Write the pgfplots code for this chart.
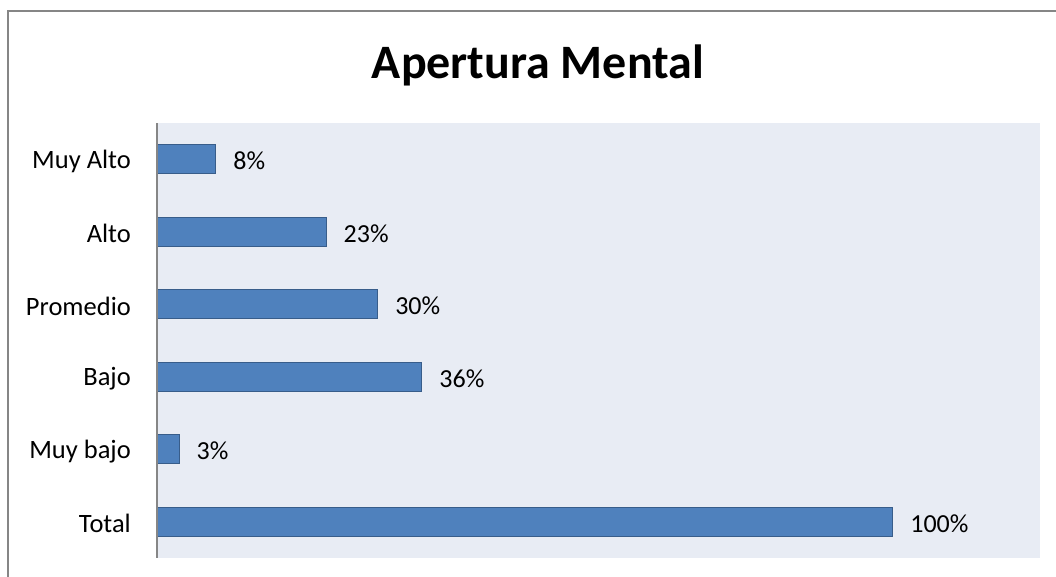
\documentclass[border=0pt]{standalone}
\usepackage{pgfplots}
\pgfplotsset{compat=1.18}
\usepackage{fontspec}
\setmainfont{Carlito}
\definecolor{barfill}{HTML}{4F81BD}
\definecolor{barline}{HTML}{385D8A}
\definecolor{plotbg}{HTML}{E8ECF4}
\definecolor{axgray}{HTML}{868686}
\begin{document}
\begin{tikzpicture}[x=1pt,y=1pt]
\useasboundingbox (0,0) rectangle (1056,577);
\fill[white] (0,0) rectangle (1056,577);
\draw[color=axgray, line width=1.2pt] (8,-10) rectangle (1070,566);
\node[font=\fontsize{48}{57}\selectfont\bfseries] at (538,512) {Apertura Mental};
\begin{axis}[
  at={(157pt,19pt)}, anchor=south west,
  scale only axis, width=883pt, height=435pt,
  xbar, bar width=29pt,
  xmin=0, xmax=120, ymin=-0.5, ymax=5.5,
  axis background/.style={fill=plotbg},
  axis line style={draw=none},
  ytick={0,1,2,3,4,5},
  yticklabels={Total, Muy bajo, Bajo, Promedio, Alto, Muy Alto},
  xtick=\empty,
  major tick length=0pt,
  yticklabel style={font=\fontsize{26.5}{31}\selectfont, anchor=east, inner sep=0pt, xshift=-26pt, yshift=-2pt},
  clip=false,
  nodes near coords={\pgfmathprintnumber[assume math mode=true]{\pgfplotspointmeta}\%},
  every node near coord/.append style={font=\fontsize{26}{31}\selectfont, anchor=west, inner sep=0pt, xshift=17pt, yshift=-1.5pt},
]
\addplot[fill=barfill, draw=barline, line width=1pt] coordinates {
(100,0) (3,1) (36,2) (30,3) (23,4) (8,5)
};
\end{axis}
\draw[color=axgray, line width=1.5pt] (157,19) -- (157,454);
\end{tikzpicture}
\end{document}
